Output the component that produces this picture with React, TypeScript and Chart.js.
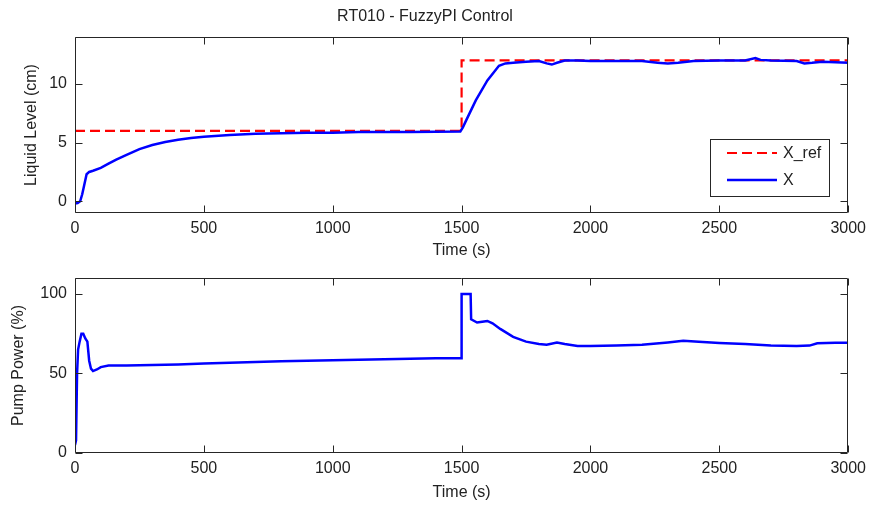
import React, { useEffect, useRef } from "react";
import { Chart, registerables } from "chart.js";

Chart.register(...registerables);

const TITLE = "RT010 - FuzzyPI Control";
const X_TICKS = [0, 500, 1000, 1500, 2000, 2500, 3000];
const LEVEL_TICKS = [0, 5, 10];
const POWER_TICKS = [0, 50, 100];

// Reference level X_ref
const refTime = [0, 1500, 1500, 3000];
const refLevel = [6, 6, 12, 12];

// Measured level X
const levelTime = [
  0, 10, 20, 28, 35, 45, 55, 70, 100, 130, 160, 200, 250, 300, 350, 400, 450, 500,
  600, 700, 800, 900, 1000, 1100, 1200, 1300, 1400, 1495, 1505, 1520, 1555, 1600,
  1645, 1670, 1700, 1750, 1800, 1830, 1850, 1870, 1900, 1950, 2000, 2100, 2200,
  2260, 2300, 2340, 2400, 2500, 2600, 2640, 2660, 2700, 2800, 2830, 2860, 2900,
  2950, 3000,
];
const levelValue = [
  -0.2, -0.15, 0, 0.6, 1.3, 2.3, 2.5, 2.6, 2.85, 3.2, 3.55, 3.95, 4.45, 4.8, 5.05,
  5.25, 5.4, 5.5, 5.65, 5.75, 5.8, 5.85, 5.85, 5.9, 5.9, 5.9, 5.92, 5.95, 6.3, 7.0,
  8.6, 10.3, 11.55, 11.75, 11.8, 11.9, 11.95, 11.75, 11.65, 11.8, 12.0, 12.0, 11.95,
  11.95, 11.95, 11.8, 11.75, 11.8, 11.95, 12.0, 12.0, 12.2, 12.05, 12.0, 11.95,
  11.75, 11.8, 11.9, 11.85, 11.8,
];

// Pump power
const powerTime = [
  0, 4, 8, 12, 18, 25, 32, 40, 48, 55, 62, 70, 85, 100, 130, 200, 300, 400, 500,
  600, 700, 800, 900, 1000, 1100, 1200, 1300, 1400, 1498, 1500, 1535, 1537, 1560,
  1580, 1600, 1620, 1650, 1700, 1750, 1800, 1830, 1870, 1900, 1950, 2000, 2100,
  2200, 2300, 2360, 2420, 2500, 2600, 2700, 2800, 2850, 2880, 2950, 3000,
];
const powerValue = [
  5, 8, 50, 65, 70, 75, 75, 72, 70, 58, 53, 51.5, 52.5, 54, 55, 55, 55.3, 55.7,
  56.3, 56.8, 57.2, 57.6, 58, 58.3, 58.6, 58.9, 59.2, 59.5, 59.6, 100, 100, 84, 82,
  82.5, 83, 81.5, 78, 73, 70, 68.5, 68, 69.5, 68.5, 67.3, 67.3, 67.5, 68, 69.5, 70.6,
  70, 69.2, 68.5, 67.5, 67.3, 67.5, 69, 69.3, 69.3,
];

const FONT = "'Liberation Sans', Arial, Helvetica, sans-serif";
const TEXT = "#222222";
const FRAME = "#262626";

const zip = (xs: number[], ys: number[]) => xs.map((x, i) => ({ x, y: ys[i] }));

const framePlugin = {
  id: "matlabFrame",
  afterDatasetsDraw(chart: any) {
    const { ctx, chartArea: a, scales } = chart;
    ctx.save();
    ctx.strokeStyle = FRAME;
    ctx.lineWidth = 1;
    const L = Math.round(a.left) + 0.5;
    const R = Math.round(a.right) - 0.5;
    const T = Math.round(a.top) + 0.5;
    const B = Math.round(a.bottom) - 0.5;
    ctx.beginPath();
    ctx.rect(L, T, R - L, B - T);
    ctx.stroke();
    const tl = 7;
    ctx.beginPath();
    for (const t of scales.x.ticks) {
      const px = Math.round(scales.x.getPixelForValue(t.value)) + 0.5;
      ctx.moveTo(px, B);
      ctx.lineTo(px, B - tl);
      ctx.moveTo(px, T);
      ctx.lineTo(px, T + tl);
    }
    for (const t of scales.y.ticks) {
      const py = Math.round(scales.y.getPixelForValue(t.value)) + 0.5;
      ctx.moveTo(L, py);
      ctx.lineTo(L + tl, py);
      ctx.moveTo(R, py);
      ctx.lineTo(R - tl, py);
    }
    ctx.stroke();
    ctx.restore();
  },
};

const boxLegendPlugin = {
  id: "boxLegend",
  afterDraw(chart: any) {
    const { ctx, chartArea: a } = chart;
    const w = 120;
    const h = 58;
    const right = Math.round(a.right) - 18;
    const bottom = Math.round(a.bottom) - 16;
    const left = right - w;
    const top = bottom - h;
    ctx.save();
    ctx.fillStyle = "#ffffff";
    ctx.fillRect(left, top, w, h);
    ctx.strokeStyle = FRAME;
    ctx.lineWidth = 1;
    ctx.strokeRect(left + 0.5, top + 0.5, w - 1, h - 1);
    const ds = chart.data.datasets;
    const rows = [14, 41];
    ds.forEach((d: any, i: number) => {
      const y = top + rows[i];
      ctx.beginPath();
      ctx.strokeStyle = d.borderColor;
      ctx.lineWidth = d.borderWidth;
      ctx.setLineDash(d.borderDash || []);
      ctx.moveTo(left + 17, y);
      ctx.lineTo(left + 67, y);
      ctx.stroke();
      ctx.setLineDash([]);
      ctx.fillStyle = TEXT;
      ctx.font = `16px ${FONT}`;
      ctx.textBaseline = "middle";
      ctx.textAlign = "left";
      ctx.fillText(d.label, left + 73, y + 1);
    });
    ctx.restore();
  },
};

function baseScales(
  yMin: number,
  yMax: number,
  yTicks: number[],
  yTitle: string,
  yTitlePad: number,
  xHeight: number,
  xTitlePadBottom: number
) {
  return {
    x: {
      type: "linear",
      min: 0,
      max: 3000,
      grid: { display: false, drawTicks: false },
      border: { display: false },
      afterBuildTicks: (s: any) => {
        s.ticks = X_TICKS.map((v) => ({ value: v }));
      },
      afterFit: (s: any) => {
        s.height = xHeight;
      },
      ticks: {
        padding: 6,
        color: TEXT,
        font: { family: FONT, size: 16 },
        maxRotation: 0,
        autoSkip: false,
        callback: (v: any) => String(v),
      },
      title: {
        display: true,
        text: "Time (s)",
        color: TEXT,
        font: { family: FONT, size: 16 },
        padding: { top: 0, bottom: xTitlePadBottom },
      },
    },
    y: {
      type: "linear",
      min: yMin,
      max: yMax,
      grid: { display: false, drawTicks: false },
      border: { display: false },
      afterBuildTicks: (s: any) => {
        s.ticks = yTicks.map((v) => ({ value: v }));
      },
      afterFit: (s: any) => {
        s.width = 75;
      },
      ticks: {
        padding: 8,
        color: TEXT,
        font: { family: FONT, size: 16 },
        autoSkip: false,
        callback: (v: any) => String(v),
      },
      title: {
        display: true,
        text: yTitle,
        color: TEXT,
        font: { family: FONT, size: 16 },
        padding: { top: yTitlePad, bottom: 0 },
      },
    },
  };
}

export default function App() {
  const topRef = useRef<HTMLCanvasElement>(null);
  const botRef = useRef<HTMLCanvasElement>(null);

  useEffect(() => {
    document.body.style.margin = "0";
    document.body.style.background = "#ffffff";

    const top = new Chart(topRef.current as HTMLCanvasElement, {
      type: "line",
      data: {
        datasets: [
          {
            label: "X_ref",
            data: zip(refTime, refLevel),
            borderColor: "#ff0000",
            borderWidth: 2.2,
            borderDash: [10, 5],
            pointRadius: 0,
            tension: 0,
            order: 1,
          },
          {
            label: "X",
            data: zip(levelTime, levelValue),
            borderColor: "#0000ff",
            borderWidth: 2.5,
            pointRadius: 0,
            tension: 0,
            order: 0,
          },
        ],
      },
      options: {
        animation: false,
        responsive: false,
        events: [],
        layout: { padding: { left: 0, right: 22, top: 0, bottom: 0 } },
        plugins: {
          legend: { display: false },
          tooltip: { enabled: false },
          title: {
            display: true,
            text: TITLE,
            color: TEXT,
            font: { family: FONT, size: 16, weight: "normal", lineHeight: 1.25 },
            padding: { top: 7, bottom: 10 },
          },
        },
        scales: baseScales(-1, 14, LEVEL_TICKS, "Liquid Level (cm)", 22, 47, 0) as any,
      },
      plugins: [framePlugin, boxLegendPlugin],
    } as any);

    const bot = new Chart(botRef.current as HTMLCanvasElement, {
      type: "line",
      data: {
        datasets: [
          {
            label: "Pump Power",
            data: zip(powerTime, powerValue),
            borderColor: "#0000ff",
            borderWidth: 2.5,
            pointRadius: 0,
            tension: 0,
          },
        ],
      },
      options: {
        animation: false,
        responsive: false,
        events: [],
        layout: { padding: { left: 0, right: 22, top: 18, bottom: 0 } },
        plugins: {
          legend: { display: false },
          tooltip: { enabled: false },
          title: { display: false },
        },
        scales: baseScales(0, 110, POWER_TICKS, "Pump Power (%)", 9, 53, 4) as any,
      },
      plugins: [framePlugin],
    } as any);

    return () => {
      top.destroy();
      bot.destroy();
    };
  }, []);

  return (
    <div style={{ position: "relative", width: 872, height: 506, background: "#fff" }}>
      <canvas
        ref={topRef}
        width={872}
        height={260}
        style={{ position: "absolute", left: 0, top: 0, width: 872, height: 260 }}
      />
      <canvas
        ref={botRef}
        width={872}
        height={246}
        style={{ position: "absolute", left: 0, top: 260, width: 872, height: 246 }}
      />
    </div>
  );
}
